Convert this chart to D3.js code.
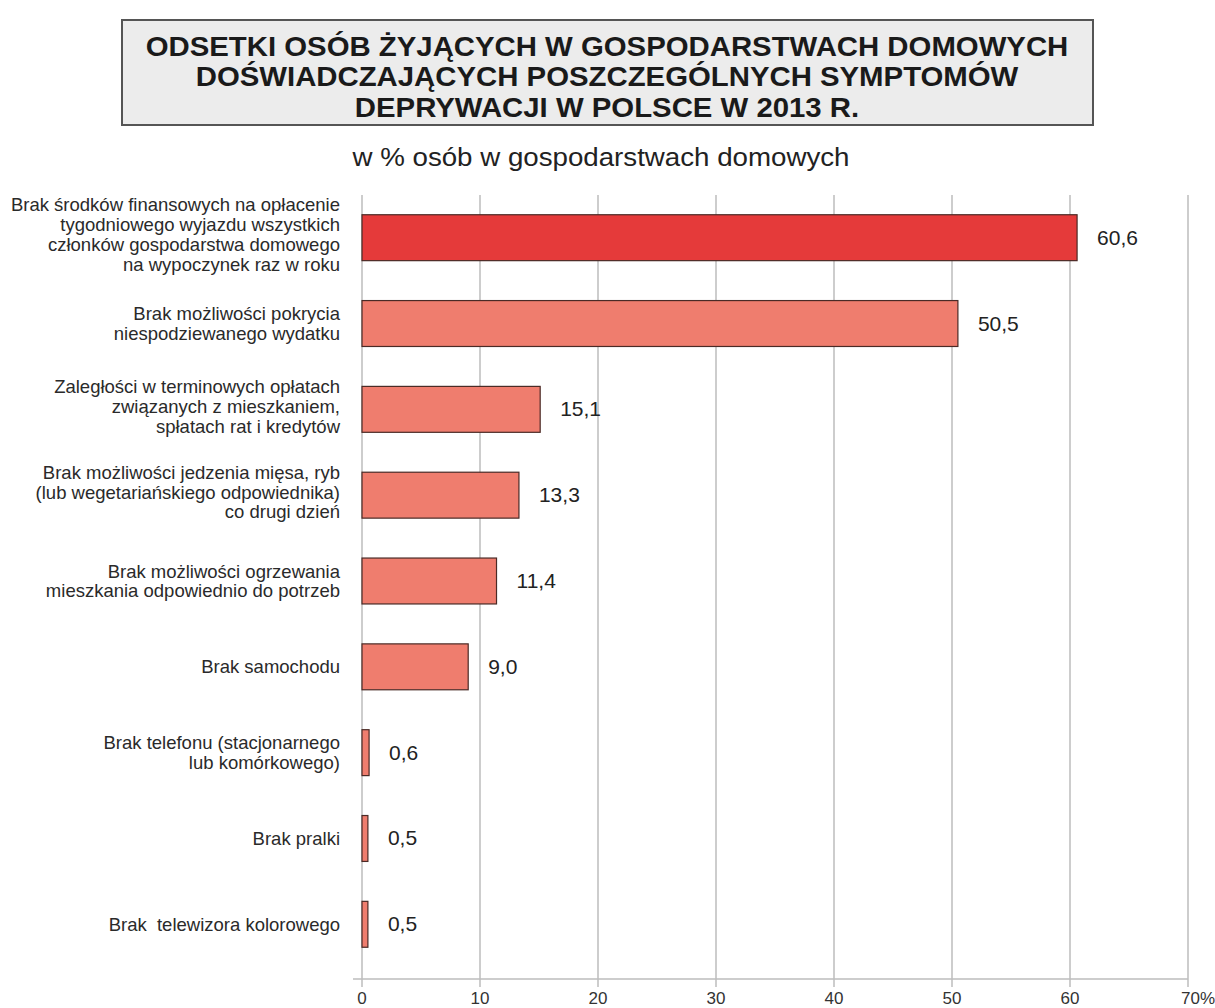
<!DOCTYPE html>
<html>
<head>
<meta charset="utf-8">
<script src="https://cdn.jsdelivr.net/npm/d3@7"></script>
<style>
  body { margin: 0; background: #fff; }
  svg { display: block; font-family: 'Liberation Sans', Arial, sans-serif; }
</style>
</head>
<body>
<div id="chart"></div>
<script>
const titleLines = [
  'ODSETKI OSÓB ŻYJĄCYCH W GOSPODARSTWACH DOMOWYCH',
  'DOŚWIADCZAJĄCYCH POSZCZEGÓLNYCH SYMPTOMÓW',
  'DEPRYWACJI W POLSCE W 2013 R.'
];
const subtitle = 'w % osób w gospodarstwach domowych';

const categories = [
  ['Brak środków finansowych na opłacenie', 'tygodniowego wyjazdu wszystkich', 'członków gospodarstwa domowego', 'na wypoczynek raz w roku'],
  ['Brak możliwości pokrycia', 'niespodziewanego wydatku'],
  ['Zaległości w terminowych opłatach', 'związanych z mieszkaniem,', 'spłatach rat i kredytów'],
  ['Brak możliwości jedzenia mięsa, ryb', '(lub wegetariańskiego odpowiednika)', 'co drugi dzień'],
  ['Brak możliwości ogrzewania', 'mieszkania odpowiednio do potrzeb'],
  ['Brak samochodu'],
  ['Brak telefonu (stacjonarnego', 'lub komórkowego)'],
  ['Brak pralki'],
  ['Brak  telewizora kolorowego']
];
const values = [60.6, 50.5, 15.1, 13.3, 11.4, 9.0, 0.6, 0.5, 0.5];
const ticks = [0, 10, 20, 30, 40, 50, 60, 70];

const W = 1215, H = 1008;
const svg = d3.select('#chart').append('svg').attr('width', W).attr('height', H);

// Title box
svg.append('rect')
  .attr('x', 122).attr('y', 20).attr('width', 971).attr('height', 105)
  .attr('fill', '#ececec').attr('stroke', '#555').attr('stroke-width', 2);

const titleG = svg.append('g');
const tl = titleG.selectAll('text').data(titleLines).enter().append('text')
  .attr('x', 0).attr('y', (d, i) => 56 + i * 30.5)
  .attr('text-anchor', 'middle')
  .attr('font-size', 27).attr('font-weight', 'bold').attr('fill', '#1a1a1a')
  .text(d => d);
const w0 = tl.node().getComputedTextLength();
titleG.attr('transform', `translate(607,0) scale(${923 / w0},1)`);

svg.append('text')
  .attr('x', 601).attr('y', 166).attr('text-anchor', 'middle')
  .attr('font-size', 25).attr('fill', '#222')
  .attr('textLength', 497).attr('lengthAdjust', 'spacingAndGlyphs')
  .text(subtitle);

// Scales
const x = d3.scaleLinear().domain([0, 70]).range([362, 1188]);
const y = d3.scaleBand().domain(d3.range(values.length)).range([195, 967]).paddingInner(0.465).paddingOuter(0.23);

// Grid
svg.append('g').selectAll('line').data(ticks).enter().append('line')
  .attr('x1', d => x(d)).attr('x2', d => x(d))
  .attr('y1', 195).attr('y2', 987)
  .attr('stroke', '#bdbdbd').attr('stroke-width', 1.5);

svg.append('line')
  .attr('x1', 353).attr('x2', x(70)).attr('y1', 979).attr('y2', 979)
  .attr('stroke', '#bdbdbd').attr('stroke-width', 1.5);

svg.append('g').selectAll('text').data(ticks).enter().append('text')
  .attr('x', d => x(d) + (d === 70 ? 10 : 0)).attr('y', 1004)
  .attr('text-anchor', 'middle')
  .attr('font-size', 17).attr('fill', '#333')
  .text(d => d === 70 ? '70%' : d);

// Bars
svg.append('g').selectAll('rect').data(values).enter().append('rect')
  .attr('x', x(0)).attr('y', (d, i) => y(i))
  .attr('width', d => x(d) - x(0)).attr('height', y.bandwidth())
  .attr('fill', (d, i) => i === 0 ? '#e53a3a' : '#ef7d6e')
  .attr('stroke', '#4a2a26').attr('stroke-width', 1.2);

// Value labels
svg.append('g').selectAll('text').data(values).enter().append('text')
  .attr('x', d => x(d) + 20).attr('y', (d, i) => y(i) + y.bandwidth() / 2 + 7)
  .attr('font-size', 21).attr('fill', '#222')
  .text(d => d3.format('.1f')(d).replace('.', ','));

// Category labels
const lineH = 19.8;
const lab = svg.append('g').selectAll('text').data(categories).enter().append('text')
  .attr('text-anchor', 'end').attr('font-size', 18.5).attr('fill', '#2a2a2a')
  .attr('xml:space', 'preserve').style('white-space', 'pre');
lab.each(function (lines, i) {
  const cy = y(i) + y.bandwidth() / 2 - (lines.length > 2 ? 3 : 0);
  const t = d3.select(this);
  lines.forEach((ln, j) => {
    t.append('tspan').attr('x', 340)
      .attr('y', cy + (j - (lines.length - 1) / 2) * lineH + 6.5)
      .text(ln);
  });
});
</script>
</body>
</html>
